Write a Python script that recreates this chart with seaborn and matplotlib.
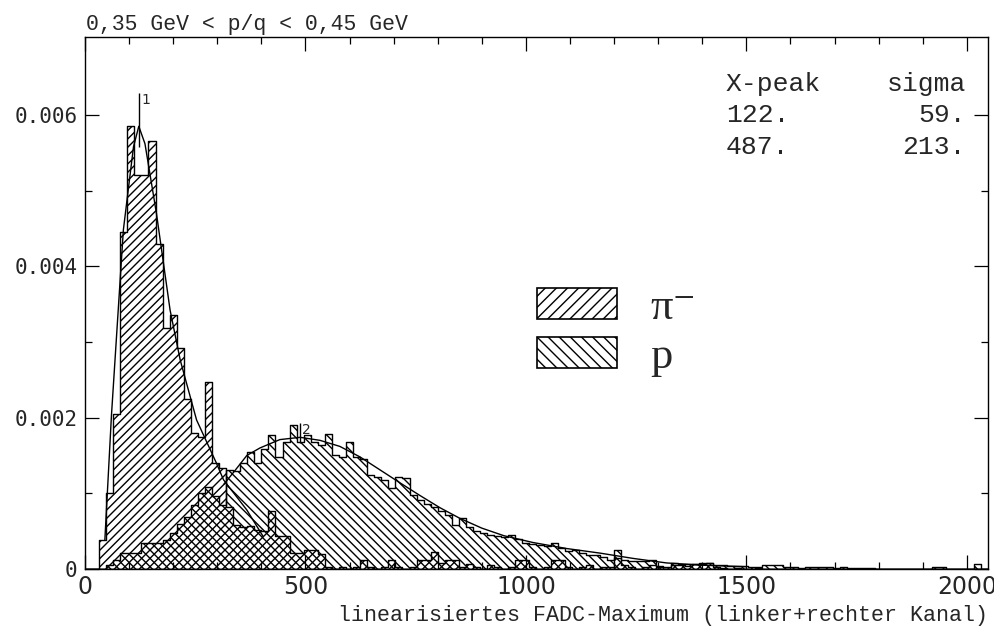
import numpy as np
import pandas as pd
import matplotlib
matplotlib.use("Agg")
import matplotlib.pyplot as plt
import seaborn as sns
from matplotlib.patches import Patch

# ---------------- data (density values in units of 1e-3) ----------------
BIN_WIDTH = 16
X_MAX = 2048
bin_edges = list(range(0, X_MAX + BIN_WIDTH, BIN_WIDTH))

pi_vals = [
    0.00, 0.00, 0.38, 1.00, 2.05, 4.45, 5.85, 5.20, 5.20, 5.65,
    4.30, 3.18, 3.36, 2.92, 2.25, 1.80, 1.75, 2.47, 1.40, 1.33,
    0.82, 0.58, 0.55, 0.57, 0.52, 0.50, 0.76, 0.43, 0.43, 0.21,
    0.21, 0.25, 0.25, 0.20, 0.02, 0.00, 0.03, 0.00, 0.02, 0.12,
    0.03, 0.00, 0.03, 0.12, 0.02, 0.00, 0.03, 0.12, 0.12, 0.23,
    0.08, 0.12, 0.12, 0.03, 0.07, 0.02, 0.00, 0.05, 0.02, 0.00,
    0.03, 0.12, 0.12, 0.02, 0.00, 0.03, 0.12, 0.12, 0.02, 0.00,
    0.02, 0.05, 0.00, 0.02, 0.03, 0.15, 0.05, 0.02, 0.00, 0.03,
    0.05, 0.02, 0.00, 0.05, 0.05, 0.04, 0.06, 0.08, 0.08, 0.03,
    0.01, 0.00, 0.01, 0.00, 0.00, 0.01, 0.00, 0.00, 0.00, 0.00,
    0.00, 0.00, 0.00, 0.00, 0.00, 0.00, 0.00, 0.00, 0.00, 0.00,
    0.00, 0.00, 0.00, 0.00, 0.00, 0.00, 0.00, 0.00, 0.00, 0.00,
    0.00, 0.00, 0.00, 0.00, 0.00, 0.00, 0.00, 0.00,
]

p_vals = [
    0.00, 0.00, 0.00, 0.05, 0.12, 0.21, 0.21, 0.21, 0.34, 0.34,
    0.34, 0.38, 0.47, 0.60, 0.69, 0.85, 1.00, 1.09, 0.96, 0.85,
    1.31, 1.30, 1.40, 1.55, 1.40, 1.59, 1.77, 1.48, 1.68, 1.90,
    1.68, 1.77, 1.68, 1.64, 1.79, 1.51, 1.48, 1.68, 1.48, 1.46,
    1.24, 1.22, 1.17, 1.07, 1.21, 1.20, 0.98, 0.91, 0.86, 0.82,
    0.77, 0.72, 0.58, 0.68, 0.55, 0.50, 0.47, 0.45, 0.43, 0.42,
    0.45, 0.39, 0.34, 0.33, 0.32, 0.30, 0.34, 0.28, 0.24, 0.25,
    0.21, 0.19, 0.19, 0.16, 0.12, 0.25, 0.12, 0.11, 0.10, 0.10,
    0.12, 0.04, 0.03, 0.08, 0.06, 0.07, 0.06, 0.07, 0.08, 0.05,
    0.05, 0.04, 0.04, 0.04, 0.03, 0.03, 0.05, 0.05, 0.05, 0.03,
    0.03, 0.01, 0.02, 0.03, 0.02, 0.02, 0.01, 0.02, 0.01, 0.01,
    0.01, 0.01, 0.005, 0.005, 0.005, 0.005, 0.005, 0.005, 0.005, 0.005,
    0.02, 0.02, 0.005, 0.005, 0.005, 0.005, 0.07, 0.00,
]

# fitted curves
pi_fit_x = [45, 60, 87, 110, 122, 136, 162, 193, 216, 253, 298, 314, 367, 404]
pi_fit_y = [0.38, 2.03, 4.48, 5.58, 5.85, 5.62, 4.70, 3.42, 2.76, 1.97, 1.40, 1.18, 0.78, 0.43]

p_fit_x = [315, 340, 367, 397, 442, 488, 533, 578, 624, 669, 714, 760, 805,
           850, 900, 950, 1016, 1093, 1168, 1243, 1319, 1400, 1500]
p_fit_y = [1.12, 1.30, 1.50, 1.60, 1.71, 1.74, 1.70, 1.62, 1.48, 1.31, 1.14, 0.97, 0.81,
           0.67, 0.54, 0.44, 0.35, 0.27, 0.21, 0.14, 0.08, 0.05, 0.03]

peak_labels = ["1", "2"]
peak_x = [122, 487]
sigma = [59, 213]
marker_lo = [5.58, 1.66]
marker_hi = [6.29, 1.93]

series_labels = ["\u03c0\u207b", "p"]
title_text = "0,35 GeV < p/q < 0,45 GeV"
xlabel_text = "linearisiertes FADC-Maximum (linker+rechter Kanal)"
x_ticks = [0, 500, 1000, 1500, 2000]
y_ticks = [0.0, 0.002, 0.004, 0.006]
y_tick_labels = ["0", "0.002", "0.004", "0.006"]
SCALE = 1e-3

# ---------------- style ----------------
sns.set_theme(style="ticks")
plt.rcParams["font.family"] = ["DejaVu Sans"]
plt.rcParams["hatch.linewidth"] = 1.0
plt.rcParams["hatch.color"] = "black"

MONO = ["Liberation Mono", "DejaVu Sans Mono"]
NARROW = ["Liberation Sans Narrow", "DejaVu Sans"]
SERIF = ["Liberation Serif", "DejaVu Serif"]

W, H = 995, 634
fig = plt.figure(figsize=(W / 100, H / 100), dpi=100)
fig.patch.set_facecolor("white")
ax = fig.add_axes([85 / W, 1 - 569 / H, (988 - 85) / W, (569 - 37) / H])
ax.set_facecolor("white")

centers = np.array(bin_edges[:-1]) + BIN_WIDTH / 2
df = pd.DataFrame({
    "adc": np.concatenate([centers, centers]),
    "dens": np.concatenate([np.array(pi_vals), np.array(p_vals)]) * SCALE,
    "species": ["pi"] * len(centers) + ["p"] * len(centers),
})

for sp, hatch in [("pi", "////"), ("p", "\\\\\\\\")]:
    sub = df[df["species"] == sp]
    n_before = len(ax.collections)
    sns.histplot(data=sub, x="adc", weights="dens", bins=bin_edges,
                 element="step", fill=True, color="black", facecolor="none",
                 edgecolor="black", linewidth=1.0, hatch=hatch, ax=ax)
    for coll in ax.collections[n_before:]:
        coll.set_facecolor("none")
        coll.set_edgecolor("black")
        coll.set_hatch(hatch)
        coll.set_linewidth(1.0)

fits = pd.DataFrame({
    "x": pi_fit_x + p_fit_x,
    "y": np.array(pi_fit_y + p_fit_y) * SCALE,
    "fit": ["pi"] * len(pi_fit_x) + ["p"] * len(p_fit_x),
})
for f in ["pi", "p"]:
    sub = fits[fits["fit"] == f]
    sns.lineplot(data=sub, x="x", y="y", color="black", linewidth=1.0, ax=ax)

# peak markers
ax.vlines(peak_x, np.array(marker_lo) * SCALE, np.array(marker_hi) * SCALE,
          color="black", linewidth=1.0)
for lab, px, top in zip(peak_labels, peak_x, marker_hi):
    ax.text(px + 6, top * SCALE, lab, fontsize=10, ha="left", va="top",
            family=["DejaVu Sans"])

ax.set_xlim(0, X_MAX)
ax.set_ylim(0, 0.00703)
ax.set_xlabel("")
ax.set_ylabel("")

ax.set_xticks(x_ticks, [str(t) for t in x_ticks], fontsize=17, family=NARROW)
ax.set_xticks(np.arange(0, X_MAX, 100), minor=True)
ax.set_yticks(y_ticks, y_tick_labels, fontsize=15, family=["DejaVu Sans Mono"])
ax.set_yticks(np.arange(0, 0.007, 0.001), minor=True)
ax.tick_params(which="both", direction="in", top=True, right=True,
               width=0.9, color="black")
ax.tick_params(which="major", length=10)
ax.tick_params(which="minor", length=5)
ax.tick_params(axis="x", pad=4)
ax.tick_params(axis="y", pad=5.5)
for s in ax.spines.values():
    s.set_linewidth(1.0)
    s.set_color("black")

# legend
handles = [
    Patch(facecolor="none", edgecolor="black", hatch="///", linewidth=1.2, label=series_labels[0]),
    Patch(facecolor="none", edgecolor="black", hatch="\\\\\\", linewidth=1.2, label=series_labels[1]),
]
ax.legend(handles=handles, loc="upper left",
          bbox_to_anchor=(537 / W, 1 - 287.5 / H), bbox_transform=fig.transFigure,
          frameon=False, borderpad=0, borderaxespad=0, handlelength=1.8,
          handleheight=0.7, handletextpad=0.75, labelspacing=0.2,
          prop={"family": SERIF, "size": 32})

# texts
fig.text(86 / W, 1 - 30 / H, title_text, family=MONO, fontsize=15.5, va="baseline")
row_base = [90.5, 122.5, 154]
fig.text(726 / W, 1 - row_base[0] / H, "X-peak", family=MONO, fontsize=19, va="baseline")
fig.text(966 / W, 1 - row_base[0] / H, "sigma", family=MONO, fontsize=19, va="baseline", ha="right")
for i in range(2):
    fig.text(726 / W, 1 - row_base[i + 1] / H, f"{peak_x[i]}.", family=MONO,
             fontsize=19, va="baseline")
    fig.text(966 / W, 1 - row_base[i + 1] / H, f"{sigma[i]}.", family=MONO,
             fontsize=19, va="baseline", ha="right")

fig.text(988 / W, 1 - 616 / H, xlabel_text, family=MONO, fontsize=15.6,
         ha="right", va="center")

fig.savefig("out.png", dpi=100)
